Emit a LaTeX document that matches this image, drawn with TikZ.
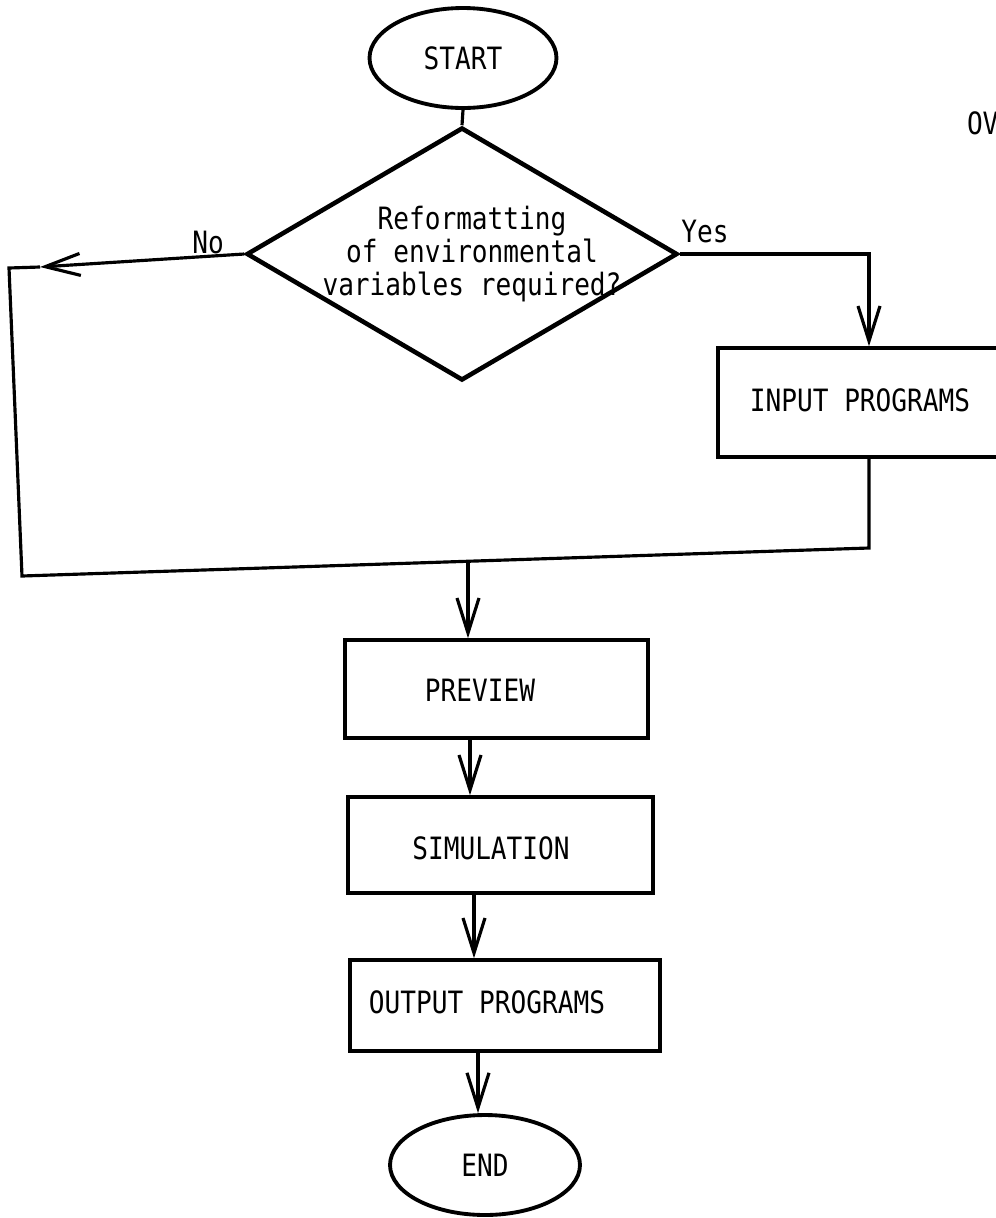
\documentclass[tikz,border=0pt]{standalone}
\usepackage{fontspec}
\newfontfamily\flowfont[FakeStretch=0.85]{DejaVu Sans Mono}
\usetikzlibrary{shapes.geometric,arrows.meta}

\begin{document}
\begin{tikzpicture}[x=0.02cm,y=-0.02cm,
  every node/.style={font=\flowfont\fontsize{17.5}{18.8}\selectfont},
  txt/.style={inner sep=0pt, outer sep=0pt},
  procbox/.style={draw, rectangle, line width=2pt, inner sep=0pt},
  oval/.style={draw, ellipse, line width=2.2pt, inner sep=0pt},
  decision/.style={draw, diamond, line width=2.6pt, inner sep=0pt},
  conn/.style={line width=1.8pt, line join=miter},
  barb/.style={-{Straight Barb[length=7mm,width=4.4mm]}},
]
\useasboundingbox (0,0) rectangle (996,1218);
\clip (0,0) rectangle (996,1218);

% terminals
\node[oval, minimum width=3.74cm, minimum height=2cm] (start) at (463,58) {};
\node[txt] (startT) at (463,58) {START};
\node[oval, minimum width=3.8cm, minimum height=2cm] (end) at (485,1165) {};
\node[txt] (endT) at (485,1165) {END};

% decision
\node[decision, minimum width=8.62cm, minimum height=5.06cm] (dec) at (462,254) {};
\node[txt, align=center] (decT) at (472,254) {Reformatting\\of environmental\\variables required?};
\node[txt] (no) at (208,243) {No};
\node[txt] (yes) at (705,232) {Yes};

% process boxes
\node[procbox, minimum width=6.04cm, minimum height=2.18cm] (inp) at (869,402.5) {};
\node[txt] (inpT) at (860,400) {INPUT PROGRAMS};
\node[procbox, minimum width=6.06cm, minimum height=1.96cm] (prev) at (496.5,689) {};
\node[txt] (prevT) at (480,690) {PREVIEW};
\node[procbox, minimum width=6.1cm, minimum height=1.92cm] (sim) at (500.5,845) {};
\node[txt] (simT) at (491,848) {SIMULATION};
\node[procbox, minimum width=6.2cm, minimum height=1.82cm] (out) at (505,1005.5) {};
\node[txt] (outT) at (487,1002) {OUTPUT PROGRAMS};

% heading at the page edge
\node[txt, anchor=west] (head) at (967,123) {OV};

% routing points
\coordinate (noTip) at (40,267);
\coordinate (loopTL) at (9,268);
\coordinate (loopBL) at (22,576);
\coordinate (loopBR) at (869,548);
\coordinate (join) at (468,562);
\coordinate (colA) at (470,0);
\coordinate (colB) at (474,0);
\coordinate (colC) at (478,0);

% connectors
\draw[conn] (start.south) -- (dec.north);
\draw[conn, barb] (dec.west) -- (noTip);
\draw[conn] (noTip) -- (loopTL) -- (loopBL) -- (loopBR) -- (inp.south);
\draw[conn, barb] (dec.east) -| (inp.north);
\draw[conn, barb] (join) -- (join |- prev.north);
\draw[conn, barb] (colA |- prev.south) -- (colA |- sim.north);
\draw[conn, barb] (colB |- sim.south) -- (colB |- out.north);
\draw[conn, barb] (colC |- out.south) -- (colC |- end.north);
\end{tikzpicture}
\end{document}
